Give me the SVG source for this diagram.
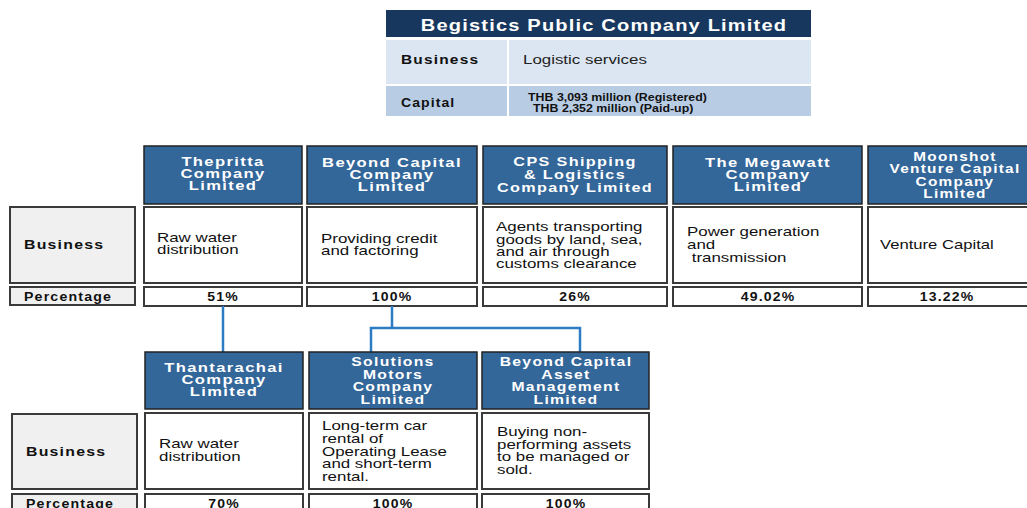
<svg xmlns="http://www.w3.org/2000/svg" width="1027" height="508" viewBox="0 0 1027 508">
<style>
.hdr{fill:#336699;stroke:#222;stroke-width:1.5}
.box{fill:#fff;stroke:#3a3a3a;stroke-width:2}
.lbl{fill:#f0f0f0;stroke:#3a3a3a;stroke-width:2}
.ht{font-family:"Liberation Sans",Arial,sans-serif;font-weight:bold;font-size:12px;fill:#fff;text-anchor:middle;letter-spacing:1px}
.bt{font-family:"Liberation Sans",Arial,sans-serif;font-size:13px;fill:#111}
.lt{font-family:"Liberation Sans",Arial,sans-serif;font-weight:bold;font-size:13px;fill:#111;letter-spacing:1px}
.pl{font-family:"Liberation Sans",Arial,sans-serif;font-weight:bold;font-size:12px;fill:#111;letter-spacing:1px}
.pt{font-family:"Liberation Sans",Arial,sans-serif;font-weight:bold;font-size:12px;fill:#111;text-anchor:middle;letter-spacing:1px}
.con{fill:none;stroke:#2b7cc2;stroke-width:2.5}
</style>
<rect width="1027" height="508" fill="#fff"/>

<g id="parent">
<rect x="386" y="10" width="425" height="27" fill="#17375e"/>
<text transform="translate(604 31) scale(1.18 1)" x="0" y="0" font-family="Liberation Sans,Arial,sans-serif" font-weight="bold" font-size="17" fill="#fff" text-anchor="middle" letter-spacing="1">Begistics Public Company Limited</text>
<rect x="386" y="40" width="425" height="44" fill="#dce6f2"/>
<line x1="508" y1="40" x2="508" y2="84" stroke="#fff" stroke-width="2"/>
<text transform="translate(401 64) scale(1.19 1)" x="0" y="0" class="lt">Business</text>
<text transform="translate(523 64) scale(1.3 1)" x="0" y="0" font-family="Liberation Sans,Arial,sans-serif" font-size="13" fill="#222">Logistic services</text>
<rect x="386" y="86" width="425" height="30" fill="#b8cce4"/>
<line x1="508" y1="86" x2="508" y2="116" stroke="#fff" stroke-width="2"/>
<text transform="translate(401 107) scale(1.08 1)" x="0" y="0" class="lt">Capital</text>
<text transform="translate(528 101) scale(1.24 1)" x="0" y="0" font-family="Liberation Sans,Arial,sans-serif" font-weight="bold" font-size="10" fill="#111">THB 3,093 million (Registered)</text>
<text transform="translate(533 112) scale(1.24 1)" x="0" y="0" font-family="Liberation Sans,Arial,sans-serif" font-weight="bold" font-size="10" fill="#111">THB 2,352 million (Paid-up)</text>
</g>

<g id="labels1">
<rect x="10" y="207" width="125" height="76" class="lbl"/>
<text transform="translate(24 249) scale(1.22 1)" x="0" y="0" class="lt">Business</text>
<rect x="10" y="287" width="125" height="18" class="lbl"/>
<text transform="translate(24 301) scale(1.18 1)" x="0" y="0" class="pl">Percentage</text>
</g>

<g id="thepritta">
<rect x="144" y="146" width="158" height="58" class="hdr"/>
<text class="ht" transform="translate(223 0) scale(1.38 1)"><tspan x="0" y="166">Thepritta</tspan><tspan x="0" y="178">Company</tspan><tspan x="0" y="190">Limited</tspan></text>
<rect x="144" y="207" width="158" height="76" class="box"/>
<text class="bt" transform="translate(157 0) scale(1.3 1)"><tspan x="0" y="242">Raw water</tspan><tspan x="0" y="254">distribution</tspan></text>
<rect x="144" y="287" width="158" height="19" class="box"/>
<text class="pt" transform="translate(223 301) scale(1.17 1)" x="0" y="0">51%</text>
</g>

<g id="beyondcapital">
<rect x="307" y="146" width="170" height="58" class="hdr"/>
<text class="ht" transform="translate(392 0) scale(1.38 1)"><tspan x="0" y="167">Beyond Capital</tspan><tspan x="0" y="179">Company</tspan><tspan x="0" y="191">Limited</tspan></text>
<rect x="307" y="207" width="170" height="76" class="box"/>
<text class="bt" transform="translate(321 0) scale(1.3 1)"><tspan x="0" y="243">Providing credit</tspan><tspan x="0" y="255">and factoring</tspan></text>
<rect x="307" y="287" width="170" height="19" class="box"/>
<text class="pt" transform="translate(392 301) scale(1.17 1)" x="0" y="0">100%</text>
</g>

<g id="cps">
<rect x="483" y="146" width="184" height="58" class="hdr"/>
<text class="ht" transform="translate(575 0) scale(1.35 1)"><tspan x="0" y="166">CPS Shipping</tspan><tspan x="0" y="179">&amp; Logistics</tspan><tspan x="0" y="192">Company Limited</tspan></text>
<rect x="483" y="207" width="184" height="76" class="box"/>
<text class="bt" transform="translate(496 0) scale(1.3 1)"><tspan x="0" y="231">Agents transporting</tspan><tspan x="0" y="244">goods by land, sea,</tspan><tspan x="0" y="256">and air through</tspan><tspan x="0" y="268">customs clearance</tspan></text>
<rect x="483" y="287" width="184" height="19" class="box"/>
<text class="pt" transform="translate(575 301) scale(1.17 1)" x="0" y="0">26%</text>
</g>

<g id="megawatt">
<rect x="673" y="146" width="189" height="58" class="hdr"/>
<text class="ht" transform="translate(768 0) scale(1.38 1)"><tspan x="0" y="167">The Megawatt</tspan><tspan x="0" y="179">Company</tspan><tspan x="0" y="191">Limited</tspan></text>
<rect x="673" y="207" width="189" height="76" class="box"/>
<text class="bt" transform="translate(687 0) scale(1.3 1)"><tspan x="0" y="236">Power generation</tspan><tspan x="0" y="249">and</tspan><tspan x="0" y="262"> transmission</tspan></text>
<rect x="673" y="287" width="189" height="19" class="box"/>
<text class="pt" transform="translate(768 301) scale(1.17 1)" x="0" y="0">49.02%</text>
</g>

<g id="moonshot">
<rect x="868" y="146" width="165" height="58" class="hdr"/>
<text class="ht" transform="translate(955 0) scale(1.28 1)"><tspan x="0" y="161">Moonshot</tspan><tspan x="0" y="173">Venture Capital</tspan><tspan x="0" y="186">Company</tspan><tspan x="0" y="198">Limited</tspan></text>
<rect x="868" y="207" width="165" height="76" class="box"/>
<text class="bt" font-size="15" transform="translate(880 249) scale(1.28 1)" x="0" y="0">Venture Capital</text>
<rect x="868" y="287" width="165" height="19" class="box"/>
<text class="pt" transform="translate(947 301) scale(1.17 1)" x="0" y="0">13.22%</text>
</g>

<g id="connectors">
<path class="con" d="M223 306 V352"/>
<path class="con" d="M392 306 V328 M371 352 V328 H580 V352"/>
</g>

<g id="labels2">
<rect x="12" y="414" width="125" height="75" class="lbl"/>
<text transform="translate(26 456) scale(1.22 1)" x="0" y="0" class="lt">Business</text>
<rect x="12" y="494" width="125" height="20" class="lbl"/>
<text transform="translate(26 508) scale(1.18 1)" x="0" y="0" class="pl">Percentage</text>
</g>

<g id="thantarachai">
<rect x="145" y="352" width="158" height="57" class="hdr"/>
<text class="ht" transform="translate(224 0) scale(1.38 1)"><tspan x="0" y="372">Thantarachai</tspan><tspan x="0" y="384">Company</tspan><tspan x="0" y="396">Limited</tspan></text>
<rect x="145" y="413" width="158" height="76" class="box"/>
<text class="bt" transform="translate(159 0) scale(1.3 1)"><tspan x="0" y="448">Raw water</tspan><tspan x="0" y="461">distribution</tspan></text>
<rect x="145" y="494" width="158" height="20" class="box"/>
<text class="pt" transform="translate(224 508) scale(1.17 1)" x="0" y="0">70%</text>
</g>

<g id="solutions">
<rect x="309" y="352" width="168" height="57" class="hdr"/>
<text class="ht" transform="translate(393 0) scale(1.31 1)"><tspan x="0" y="366">Solutions</tspan><tspan x="0" y="379">Motors</tspan><tspan x="0" y="391">Company</tspan><tspan x="0" y="404">Limited</tspan></text>
<rect x="309" y="413" width="168" height="76" class="box"/>
<text class="bt" transform="translate(322 0) scale(1.3 1)"><tspan x="0" y="430">Long-term car</tspan><tspan x="0" y="443">rental of</tspan><tspan x="0" y="456">Operating Lease</tspan><tspan x="0" y="468">and short-term</tspan><tspan x="0" y="481">rental.</tspan></text>
<rect x="309" y="494" width="168" height="20" class="box"/>
<text class="pt" transform="translate(393 508) scale(1.17 1)" x="0" y="0">100%</text>
</g>

<g id="beyondasset">
<rect x="482" y="352" width="167" height="57" class="hdr"/>
<text class="ht" transform="translate(566 0) scale(1.31 1)"><tspan x="0" y="366">Beyond Capital</tspan><tspan x="0" y="379">Asset</tspan><tspan x="0" y="391">Management</tspan><tspan x="0" y="404">Limited</tspan></text>
<rect x="482" y="413" width="167" height="76" class="box"/>
<text class="bt" transform="translate(497 0) scale(1.3 1)"><tspan x="0" y="436">Buying non-</tspan><tspan x="0" y="449">performing assets</tspan><tspan x="0" y="461">to be managed or</tspan><tspan x="0" y="474">sold.</tspan></text>
<rect x="482" y="494" width="167" height="20" class="box"/>
<text class="pt" transform="translate(566 508) scale(1.17 1)" x="0" y="0">100%</text>
</g>
</svg>
